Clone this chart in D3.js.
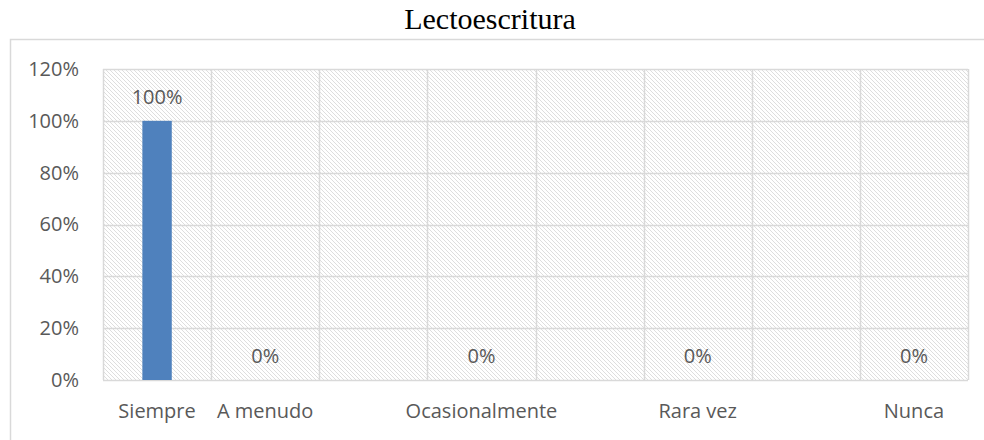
<!DOCTYPE html>
<html>
<head>
<meta charset="utf-8">
<script src="https://cdn.jsdelivr.net/npm/d3@7"></script>
<style>
  body { margin: 0; background: #fff; }
  svg { display: block; }
  text { font-family: "Open Sans", sans-serif; fill: #595959; }
</style>
</head>
<body>
<script>
// chart size
var w = 984;
var h = 440;

// data (blank categories are empty slots on the axis)
var categories = ["Siempre", "A menudo", "", "Ocasionalmente", "", "Rara vez", "", "Nunca"];
var values = [1, 0, null, 0, null, 0, null, 0];
var yTicks = [0, 0.2, 0.4, 0.6, 0.8, 1.0, 1.2];
var title = "Lectoescritura";

var margin = {left: 103, right: 16, top: 69, bottom: 60};
var fontSize = "20px";

var svg = d3.select("body")
  .append("svg")
  .attr("width", w)
  .attr("height", h);

// hatch pattern for the plot area
var defs = svg.append("defs");
var pat = defs.append("pattern")
  .attr("id", "hatch")
  .attr("patternUnits", "userSpaceOnUse")
  .attr("width", 4)
  .attr("height", 4);
pat.append("path")
  .attr("d", "M-1,-1 L5,5 M-1,3 L1,5 M3,-1 L5,1")
  .attr("stroke", "#dedede")
  .attr("stroke-width", 1);

// outer chart border (cropped on right and bottom in the reference)
svg.append("rect")
  .attr("x", 10.5)
  .attr("y", 39.5)
  .attr("width", w)
  .attr("height", h)
  .attr("fill", "none")
  .attr("stroke", "#d9d9d9")
  .attr("stroke-width", 1.5);

svg.append("text")
  .attr("x", 490)
  .attr("y", 29)
  .attr("text-anchor", "middle")
  .style("font-family", "'Liberation Serif', 'Times New Roman', serif")
  .style("font-size", "30px")
  .style("fill", "#000")
  .text(title);

var x = d3.scaleBand()
  .domain(d3.range(categories.length))
  .range([margin.left, w - margin.right])
  .padding(0);

var y = d3.scaleLinear()
  .domain([0, 1.2])
  .range([380, margin.top]);

// hatched background
svg.append("rect")
  .attr("x", x.range()[0])
  .attr("y", y(1.2))
  .attr("width", x.range()[1] - x.range()[0])
  .attr("height", y(0) - y(1.2))
  .attr("fill", "url(#hatch)");

// horizontal gridlines
svg.selectAll(".hgrid")
  .data(yTicks)
  .enter()
  .append("line")
  .attr("class", "hgrid")
  .attr("x1", x.range()[0])
  .attr("x2", x.range()[1])
  .attr("y1", function(d) { return Math.round(y(d)) + 0.5; })
  .attr("y2", function(d) { return Math.round(y(d)) + 0.5; })
  .attr("stroke", "#d9d9d9")
  .attr("stroke-width", 1.5);

// vertical gridlines at band edges
var edges = d3.range(categories.length + 1).map(function(i) {
  return i < categories.length ? x(i) : x.range()[1];
});
svg.selectAll(".vgrid")
  .data(edges)
  .enter()
  .append("line")
  .attr("class", "vgrid")
  .attr("x1", function(d) { return Math.round(d) + 0.5; })
  .attr("x2", function(d) { return Math.round(d) + 0.5; })
  .attr("y1", y(1.2))
  .attr("y2", y(0))
  .attr("stroke", "#d9d9d9")
  .attr("stroke-width", 1.5);

// y axis labels
var yAxis = d3.axisLeft(y)
  .tickValues(yTicks)
  .tickFormat(d3.format(".0%"))
  .tickSize(0)
  .tickPadding(24);
var gy = svg.append("g")
  .attr("transform", "translate(" + x.range()[0] + ",0)")
  .call(yAxis);
gy.select(".domain").remove();
gy.selectAll("text")
  .style("font-size", fontSize)
  .style("font-family", "'Open Sans', sans-serif")
  .attr("fill", "#595959");

// x axis labels
var xAxis = d3.axisBottom(x)
  .tickFormat(function(i) { return categories[i]; })
  .tickSize(0)
  .tickPadding(24);
var gx = svg.append("g")
  .attr("transform", "translate(0," + y(0) + ")")
  .call(xAxis);
gx.select(".domain").remove();
gx.selectAll("text")
  .style("font-size", fontSize)
  .style("font-family", "'Open Sans', sans-serif")
  .attr("fill", "#595959");

// bars
var barW = x.bandwidth() * 0.272;
var rows = values.map(function(v, i) { return {i: i, v: v}; })
  .filter(function(d) { return d.v !== null; });

svg.selectAll(".bar")
  .data(rows)
  .enter()
  .append("rect")
  .attr("class", "bar")
  .attr("x", function(d) { return x(d.i) + x.bandwidth() / 2 - barW / 2; })
  .attr("y", function(d) { return y(d.v); })
  .attr("width", barW)
  .attr("height", function(d) { return y(0) - y(d.v); })
  .attr("fill", "#4f81bd");

// data labels
svg.selectAll(".lbl")
  .data(rows)
  .enter()
  .append("text")
  .attr("class", "lbl")
  .attr("x", function(d) { return x(d.i) + x.bandwidth() / 2; })
  .attr("y", function(d) { return y(d.v) - 17; })
  .attr("text-anchor", "middle")
  .style("font-size", fontSize)
  .text(function(d) { return d3.format(".0%")(d.v); });
</script>
</body>
</html>
